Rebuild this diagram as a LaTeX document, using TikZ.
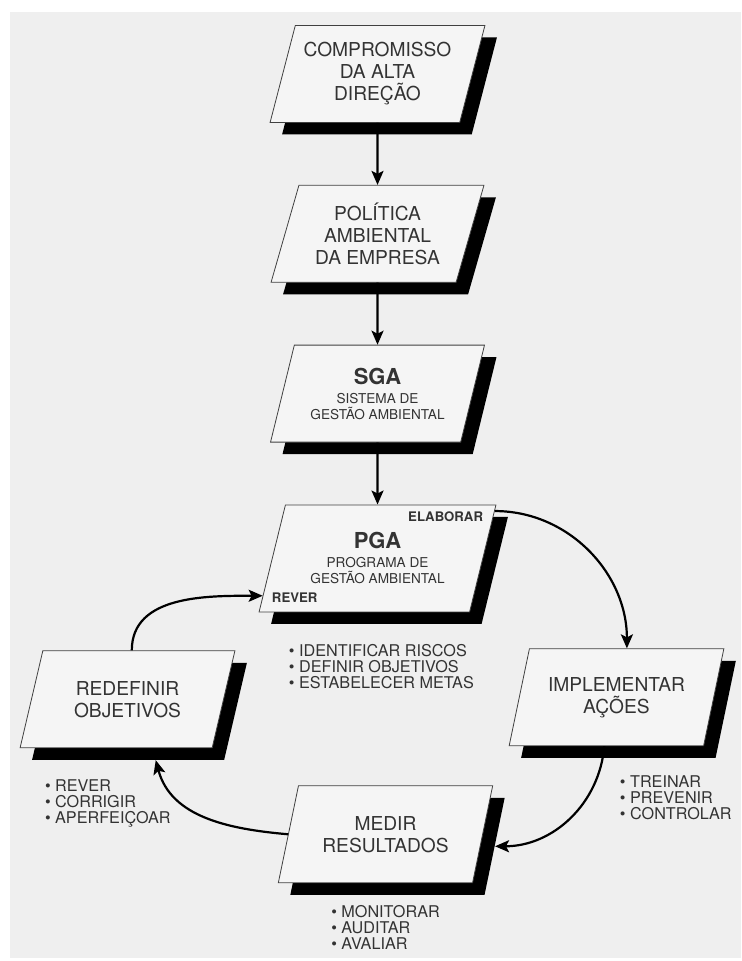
\documentclass[tikz,border=0pt]{standalone}
\usepackage{fontspec}
\setmainfont{TeX Gyre Heros}
\usepackage{tikz}
\usetikzlibrary{arrows.meta, shapes.geometric, shadows, positioning}

\definecolor{pagebg}{HTML}{EFEFEF}
\definecolor{boxbg}{HTML}{F5F5F5}
\definecolor{textgray}{HTML}{333333}

\newcommand{\boxfont}{\fontsize{9.6}{11}\selectfont}
\newcommand{\subfont}{\fontsize{6.8}{8}\selectfont}
\newcommand{\titlefont}{\fontsize{11}{12}\selectfont\bfseries}
\newcommand{\tagfont}{\fontsize{6.6}{8}\selectfont\bfseries}
\newcommand{\listfont}{\fontsize{8.1}{8}\selectfont}

\begin{document}
\begin{tikzpicture}[x=0.5pt,y=0.5pt,->,>={Stealth[length=7pt,width=6pt,inset=1.5pt]},
  node distance=31pt,
  stepbox/.style={trapezium, trapezium left angle=72, trapezium right angle=108,
    trapezium stretches=true, draw=black!75, line width=0.4pt, fill=boxbg,
    minimum width=107.5pt, minimum height=48.5pt, align=center, text=textgray,
    font=\boxfont, drop shadow={shadow xshift=6pt, shadow yshift=-6pt, fill=black, opacity=1}},
  tag/.style={font=\tagfont, text=textgray, inner sep=0pt},
  bullets/.style={font=\listfont, text=textgray, align=left, inner sep=0pt}]
  \fill[pagebg] (10,-12) rectangle (741,-958);
  \useasboundingbox (0,0) rectangle (741,-961);

  \node[stepbox] (comp) at (377.5,-74) {COMPROMISSO\\DA ALTA\\DIREÇÃO};
  \node[stepbox] (pol) [below=of comp] {POLÍTICA\\AMBIENTAL\\DA EMPRESA};
  \node[stepbox, font=\subfont] (sga) [below=of pol] {{\titlefont SGA}\\[1.5pt]SISTEMA DE\\GESTÃO AMBIENTAL};
  \node[stepbox, font=\subfont, minimum width=119pt, minimum height=53.5pt] (pga) [below=of sga]
    {{\titlefont PGA}\\[1.5pt]PROGRAMA DE\\GESTÃO AMBIENTAL};
  \node[stepbox] (redef) [below=19pt of pga, xshift=-125pt] {REDEFINIR\\OBJETIVOS};
  \node[stepbox] (impl) [below=18pt of pga, xshift=119.5pt] {IMPLEMENTAR\\AÇÕES};
  \node[stepbox] (medir) [below=86.5pt of pga, xshift=4pt] {MEDIR\\RESULTADOS};

  \node[tag, anchor=north east] (elab) at ([shift={(-6.5pt,-3.2pt)}]pga.top right corner) {ELABORAR};
  \node[tag, anchor=south west] (rever) at ([shift={(6.5pt,4.5pt)}]pga.bottom left corner) {REVER};

  \node[bullets, anchor=north west] (pgalist) at ([shift={(15pt,-15.7pt)}]pga.bottom left corner)
    {• IDENTIFICAR RISCOS\\• DEFINIR OBJETIVOS\\• ESTABELECER METAS};
  \node[bullets, anchor=north west] (redeflist) at ([shift={(12.5pt,-15.5pt)}]redef.bottom left corner)
    {• REVER\\• CORRIGIR\\• APERFEIÇOAR};
  \node[bullets, anchor=north west] (impllist) at ([shift={(1.5pt,-14.5pt)}]impl.south)
    {• TREINAR\\• PREVENIR\\• CONTROLAR};
  \node[bullets, anchor=north west] (medirlist) at ([shift={(26.5pt,-11pt)}]medir.bottom left corner)
    {• MONITORAR\\• AUDITAR\\• AVALIAR};

  \path[line width=1.1pt]
    (comp) edge (pol)
    (pol) edge (sga)
    (sga) edge (pga)
    % the loop round the programme
    (pga.22) edge[out=0, in=90] (impl.78)
    (impl.256) edge[out=-95, in=0] ([shift={(6pt,-6pt)}]medir.east)
    (medir.west) edge[out=175, in=-75] ([yshift=-6pt]redef.300)
    (redef.85) edge[out=90, in=180] (pga.198);
\end{tikzpicture}
\end{document}
